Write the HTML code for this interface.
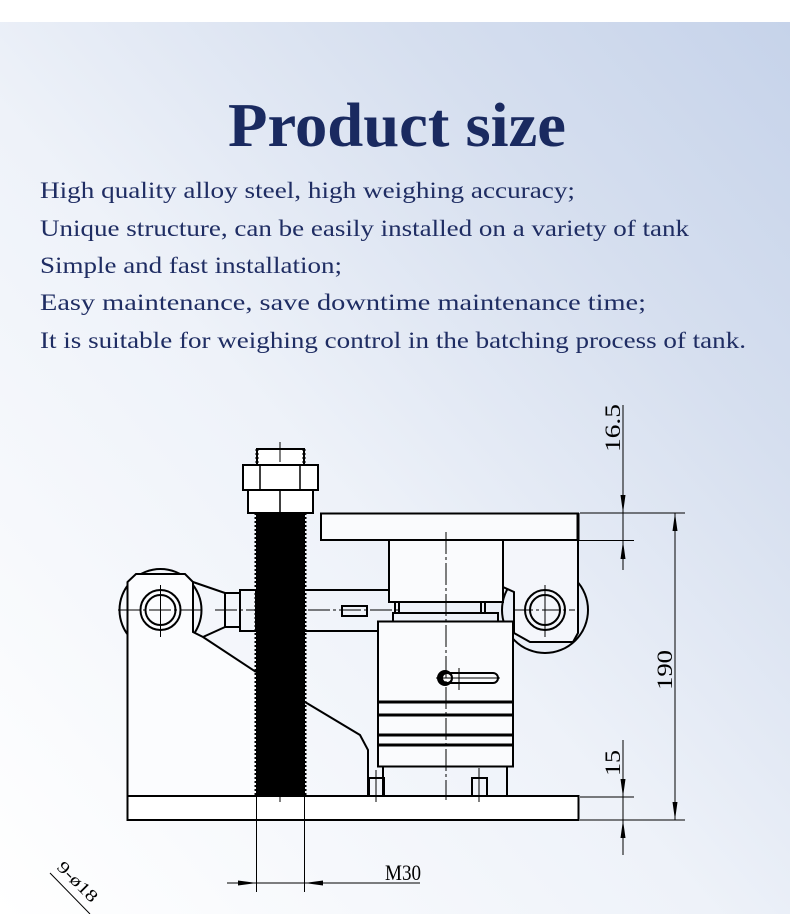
<!DOCTYPE html>
<html><head><meta charset="utf-8"><style>
html,body{margin:0;padding:0;width:790px;height:914px;overflow:hidden;background:#fff}
svg{display:block}
</style></head><body>
<svg width="790" height="914" viewBox="0 0 790 914" xmlns="http://www.w3.org/2000/svg">
<defs>
<linearGradient id="bg" x1="0" y1="1" x2="1" y2="0" gradientUnits="objectBoundingBox">
<stop offset="0" stop-color="#ffffff"/>
<stop offset="0.45" stop-color="#eef2f9"/>
<stop offset="0.75" stop-color="#d6dfef"/>
<stop offset="1" stop-color="#c6d3ea"/>
</linearGradient>
</defs>
<rect x="0" y="22" width="790" height="892" fill="url(#bg)"/>
<text x="397" y="146" text-anchor="middle" font-family="Liberation Serif, serif" font-weight="bold" font-size="62" fill="#1a2a60" textLength="338" lengthAdjust="spacingAndGlyphs">Product size</text>
<g font-family="Liberation Serif, serif" font-size="23" fill="#1f2d63">
<text x="40" y="198" textLength="535" lengthAdjust="spacingAndGlyphs">High quality alloy steel, high weighing accuracy;</text>
<text x="40" y="236" textLength="649" lengthAdjust="spacingAndGlyphs">Unique structure, can be easily installed on a variety of tank</text>
<text x="40" y="273" textLength="302" lengthAdjust="spacingAndGlyphs">Simple and fast installation;</text>
<text x="40" y="310" textLength="606" lengthAdjust="spacingAndGlyphs">Easy maintenance, save downtime maintenance time;</text>
<text x="40" y="348" textLength="706" lengthAdjust="spacingAndGlyphs">It is suitable for weighing control in the batching process of tank.</text>
</g>
<g fill="none" stroke="#000" stroke-width="2">
<!-- big eye circles (partially hidden) -->
<circle cx="160.5" cy="610" r="41"/>
<circle cx="545" cy="610" r="43"/>
<!-- left bracket (white fill hides circle) -->
<path d="M127.5 796 V582 L136 574 H185 L193 582 V632 L203 637 L256 672 V796 Z" fill="#fbfcfe" stroke="none"/>
<path d="M127.5 796 V582 L136 574 H185 L193 582 V632 L203 637 L256 672 M305 702 L360 735 L368 750 V796"/>
<!-- base plate -->
<rect x="127.5" y="796" width="451" height="24" fill="#fff"/>
<circle cx="160.5" cy="610" r="20"/>
<circle cx="160.5" cy="610" r="15"/>
<!-- tapered link -->
<path d="M193 582 L225 593 V627 L203 637"/>
<rect x="225" y="593" width="15" height="34"/>
<rect x="240" y="590" width="16" height="41"/>
<!-- connector bar -->
<path d="M305 590 H389 M305 631 H378"/>
<rect x="342" y="606" width="25" height="10"/>
<!-- right link (white fill hides circle) -->
<path d="M503 540 V587 L514 592 V633 L530 642 H573 L578 633 V540 Z" fill="#f4f6fb" stroke="none"/>
<path d="M503 587 L514 592 V633 L530 642 H573 L578 633 V540"/>
<circle cx="545" cy="610" r="20"/>
<circle cx="545" cy="610" r="15"/>
<!-- top plate -->
<rect x="321" y="513.5" width="257" height="26.5" fill="#fafbfd"/>
<line x1="578" y1="513" x2="578" y2="540" stroke-width="3"/>
<rect x="389" y="540" width="114" height="62" fill="#fafbfd"/>
<path d="M395 602 V613 M399 602 V613 M481 602 V613 M485 602 V613"/>
<rect x="393" y="613" width="105" height="8.5"/>
<!-- load cell -->
<rect x="378" y="621.5" width="135" height="145" fill="#fafbfd"/>
<path d="M378 702 H513 M378 715 H513 M378 735 H513 M378 745 H513" stroke-width="3"/>
<path d="M383 767 V796 M507 767 V796"/>
<!-- small nuts -->
<rect x="369" y="778" width="15" height="18"/>
<rect x="472" y="778" width="15" height="18"/>
<!-- slot -->
<rect x="443" y="673" width="55" height="10" rx="5"/>
</g>
<circle cx="445" cy="678" r="8" fill="#000"/>
<circle cx="447" cy="678" r="4" fill="#fff"/>
<!-- bolt -->
<rect x="256" y="513" width="49" height="283" fill="#000"/>
<path d="M256 513 V796 M305 513 V796" stroke="#000" stroke-width="3" stroke-dasharray="2 2" fill="none"/>
<rect x="257" y="449" width="47" height="16" fill="#fff" stroke="#000" stroke-width="2"/>
<path d="M257 449 V465 M304 449 V465" stroke="#000" stroke-width="3" stroke-dasharray="2 2"/>
<g fill="#fff" stroke="#000" stroke-width="2">
<rect x="243" y="465" width="75" height="25"/>
<rect x="248" y="490" width="65" height="23"/>
</g>
<path d="M260 465 V490 M300 465 V490 M280 490 V513" stroke="#000" stroke-width="1.5"/>
<!-- center lines -->
<g stroke="#000" stroke-width="1" fill="none">
<path d="M280 442 V462 M280 795 V802"/>
<path d="M446 532 V800" stroke-dasharray="22 3 3 3"/>
<path d="M118 610 H205 M215 610 H400" stroke-dasharray="22 3 3 3"/>
<path d="M515 610 H575"  stroke-dasharray="18 3 3 3"/>
<path d="M160.5 585 V637 M545 585 V637"/>
<path d="M436 678 H500 M459 668 V690"/>
<path d="M376 770 V802 M479 768 V802"/>
<!-- dimensions -->
<path d="M580 513 H685 M504 540.5 H634 M580 797 H634 M580 820 H685"/>
<path d="M623 405 V570 M675 513 V820 M623 740 V855"/>
<path d="M256.5 796 V892 M304.5 796 V892 M227 883 H420"/>
<path d="M50 873 L90 914"/>
</g>
<g fill="#000">
<path d="M623 513 L620.5 495 H625.5Z M623 541 L620.5 559 H625.5Z"/>
<path d="M675 513 L672.5 531 H677.5Z M675 820 L672.5 802 H677.5Z"/>
<path d="M623 797 L620.5 779 H625.5Z M623 820 L620.5 838 H625.5Z"/>
<path d="M256.5 883 L238 880.5 V885.5Z M304.5 883 L323 880.5 V885.5Z"/>
</g>
<g font-family="Liberation Serif, serif" font-size="22" fill="#000">
<text transform="translate(620 452) rotate(-90)" textLength="48" lengthAdjust="spacingAndGlyphs">16.5</text>
<text transform="translate(672 690) rotate(-90)" textLength="40" lengthAdjust="spacingAndGlyphs">190</text>
<text transform="translate(620 776) rotate(-90)" textLength="26" lengthAdjust="spacingAndGlyphs">15</text>
<text x="385" y="880" textLength="36" lengthAdjust="spacingAndGlyphs">M30</text>
<text transform="translate(56 868) rotate(45)" font-size="17" textLength="50" lengthAdjust="spacingAndGlyphs">9-ø18</text>
</g>
</svg>
</body></html>
